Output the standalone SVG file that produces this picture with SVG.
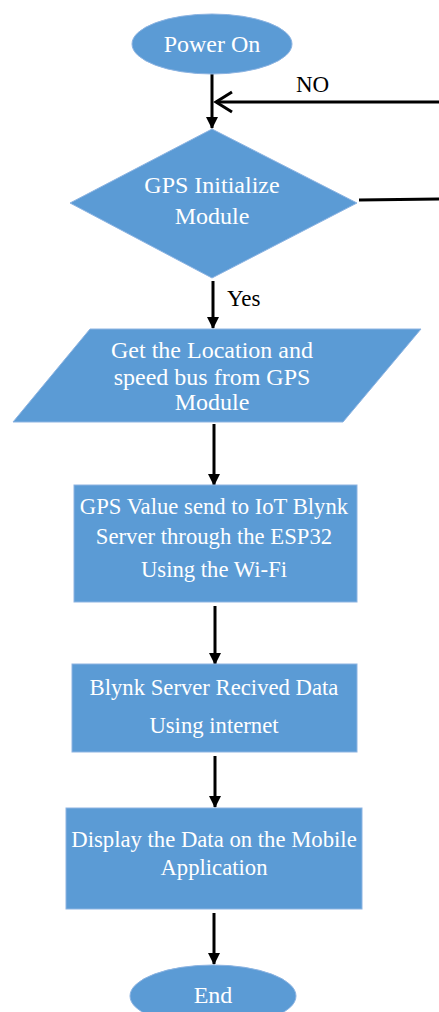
<svg xmlns="http://www.w3.org/2000/svg" width="439" height="1012" viewBox="0 0 439 1012">
<style>
.shape{fill:#5B9BD5;stroke:#8DB4E2;stroke-width:1}
.t{font-family:"Liberation Serif","Times New Roman",serif;fill:#ffffff;font-size:24px;text-anchor:middle}
.s{font-size:22.7px}
.lbl{font-family:"Liberation Serif","Times New Roman",serif;fill:#000000;font-size:23px}
.c{stroke:#000;stroke-width:3;fill:none}
</style>
<defs>
<marker id="ah" markerWidth="12" markerHeight="12" refX="11" refY="6" orient="auto" markerUnits="userSpaceOnUse">
<path d="M0,0 L12,6 L0,12 Z" fill="#000"/>
</marker>
</defs>
<rect width="439" height="1012" fill="#ffffff"/>
<g id="connectors">
<line class="c" x1="212" y1="74" x2="212" y2="128" marker-end="url(#ah)"/>
<line class="c" x1="439" y1="102" x2="216" y2="102"/>
<polyline class="c" points="232,92 216,102 232,112"/>
<line class="c" x1="359" y1="200" x2="439" y2="199"/>
<line class="c" x1="213" y1="281" x2="213" y2="328" marker-end="url(#ah)"/>
<line class="c" x1="214" y1="424" x2="214" y2="485" marker-end="url(#ah)"/>
<line class="c" x1="215" y1="606" x2="215" y2="664" marker-end="url(#ah)"/>
<line class="c" x1="215" y1="756" x2="215" y2="807" marker-end="url(#ah)"/>
<line class="c" x1="214" y1="913" x2="214" y2="964" marker-end="url(#ah)"/>
<text class="lbl" x="296" y="92">NO</text>
<text class="lbl" x="227" y="306">Yes</text>
</g>
<g id="start">
<ellipse class="shape" cx="212" cy="44" rx="80" ry="30"/>
<text class="t" x="212" y="52">Power On</text>
</g>
<g id="decision">
<polygon class="shape" points="212,129 357,203 212,278 70,203"/>
<text class="t" x="212" y="193">GPS Initialize</text>
<text class="t" x="212" y="224">Module</text>
</g>
<g id="input">
<polygon class="shape" points="90,329 421,329 343,422 13,422"/>
<text class="t" x="212" y="358">Get the Location and</text>
<text class="t" x="212" y="385">speed bus from GPS</text>
<text class="t" x="212" y="410">Module</text>
</g>
<g id="send">
<rect class="shape" x="74" y="485" width="283" height="117"/>
<text class="t s" x="214" y="514">GPS Value send to IoT Blynk</text>
<text class="t s" x="214" y="544">Server through the ESP32</text>
<text class="t s" x="214" y="577">Using the Wi-Fi</text>
</g>
<g id="server">
<rect class="shape" x="72" y="664" width="285" height="88"/>
<text class="t s" x="214" y="695">Blynk Server Recived Data</text>
<text class="t s" x="214" y="733">Using internet</text>
</g>
<g id="display">
<rect class="shape" x="66" y="808" width="296" height="101"/>
<text class="t s" x="214" y="847">Display the Data on the Mobile</text>
<text class="t s" x="214" y="875">Application</text>
</g>
<g id="end">
<ellipse class="shape" cx="213" cy="996" rx="83" ry="31"/>
<text class="t" x="213" y="1003">End</text>
</g>
</svg>
